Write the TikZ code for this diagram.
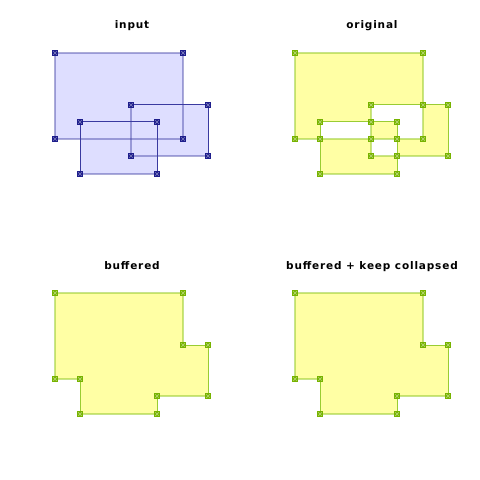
\documentclass[tikz,border=0pt]{standalone}
\usepackage{fontspec}
\newfontfamily\titlefont[LetterSpace=8]{DejaVu Sans}
\definecolor{bfill}{HTML}{DEDEFF}
\definecolor{bline}{HTML}{3A3AA0}
\definecolor{bmarkc}{HTML}{1E1E8C}
\definecolor{yfill}{HTML}{FFFFA4}
\definecolor{gline}{HTML}{99CC33}
\definecolor{gmarkc}{HTML}{77B300}
\tikzset{
  ttl/.style={anchor=base, font=\titlefont\bfseries\fontsize{10.5bp}{12bp}\selectfont, text=black},
  bcrisp/.style={draw=bline, line width=1bp},
  bsoft/.style={draw=bline, line width=2bp, draw opacity=0.42},
  gcrisp/.style={draw=gline, line width=1bp},
  gsoft/.style={draw=gline, line width=2bp, draw opacity=0.55},
  markbase/.style={rectangle, inner sep=0pt, minimum size=6bp, draw=none,
    path picture={\draw[white, opacity=0.45, line width=0.7bp]
      ([shift={(1.3bp,1.3bp)}]path picture bounding box.south west) -- ([shift={(-1.3bp,-1.3bp)}]path picture bounding box.north east)
      ([shift={(1.3bp,-1.3bp)}]path picture bounding box.north west) -- ([shift={(-1.3bp,1.3bp)}]path picture bounding box.south east);}},
  bmark/.style={markbase, fill=bmarkc},
  gmark/.style={markbase, fill=gmarkc},
}
\begin{document}
\begin{tikzpicture}[x=1bp, y=-1bp]
\useasboundingbox[fill=white] (0,0) rectangle (480,480);
% titles
\node[ttl] (t1) at (132,29) {input};
\node[ttl] (t2) at (372,29) {original};
\node[ttl] (t3) at (132,269) {buffered};
\node[ttl] (t4) at (372,269) {buffered + keep collapsed};

% ===== input =====
\begin{scope}
\fill[bfill] (55,53) rectangle (183,139);
\fill[bfill] (131,105) rectangle (208,156);
\fill[bfill] (80,122) rectangle (157,174);
\draw[bsoft] (55,53) rectangle (183,139);
\draw[bcrisp] (131,105) -- (208,105) -- (208,156);
\draw[bsoft] (208,156) -- (131,156) -- (131,105);
\draw[bcrisp] (157,174) -- (157,122) -- (80,122) -- (80,174);
\draw[bsoft] (80,174) -- (157,174);
\foreach \p [count=\i] in {(55,53),(183,53),(183,139),(55,139),(131,105),(208,105),(208,156),(131,156),(80,122),(157,122),(157,174),(80,174)}
  \node[bmark] (in\i) at \p {};
\end{scope}

% ===== original =====
\begin{scope}[xshift=240bp]
\fill[yfill, even odd rule] (55,53) rectangle (183,139) (131,105) rectangle (208,156) (80,122) rectangle (157,174);
\draw[gsoft] (55,53) rectangle (183,139);
\draw[gcrisp] (131,105) -- (208,105) -- (208,156);
\draw[gsoft] (208,156) -- (131,156) -- (131,105);
\draw[gcrisp] (157,174) -- (157,122) -- (80,122) -- (80,174);
\draw[gsoft] (80,174) -- (157,174);
\foreach \p [count=\i] in {(55,53),(183,53),(183,139),(55,139),(131,105),(208,105),(208,156),(131,156),(80,122),(157,122),(157,174),(80,174),(183,105),(131,122),(80,139),(131,139),(157,139),(157,156)}
  \node[gmark] (or\i) at \p {};
\end{scope}

% ===== buffered (two panels) =====
\foreach \dx/\nm in {0/bu, 240/bk} {
\begin{scope}[xshift=\dx bp, yshift=-240bp]
\fill[yfill] (55,53) -- (183,53) -- (183,105) -- (208,105) -- (208,156) -- (157,156) -- (157,174) -- (80,174) -- (80,139) -- (55,139) -- cycle;
\draw[gsoft] (55,139) -- (55,53) -- (183,53) -- (183,105);
\draw[gcrisp] (183,105) -- (208,105) -- (208,156);
\draw[gsoft] (208,156) -- (157,156);
\draw[gcrisp] (157,156) -- (157,174);
\draw[gsoft] (157,174) -- (80,174);
\draw[gcrisp] (80,174) -- (80,139);
\draw[gsoft] (80,139) -- (55,139);
\foreach \p [count=\i] in {(55,53),(183,53),(183,105),(208,105),(208,156),(157,156),(157,174),(80,174),(80,139),(55,139)}
  \node[gmark] (\nm\i) at \p {};
\end{scope}
}
\end{tikzpicture}
\end{document}
